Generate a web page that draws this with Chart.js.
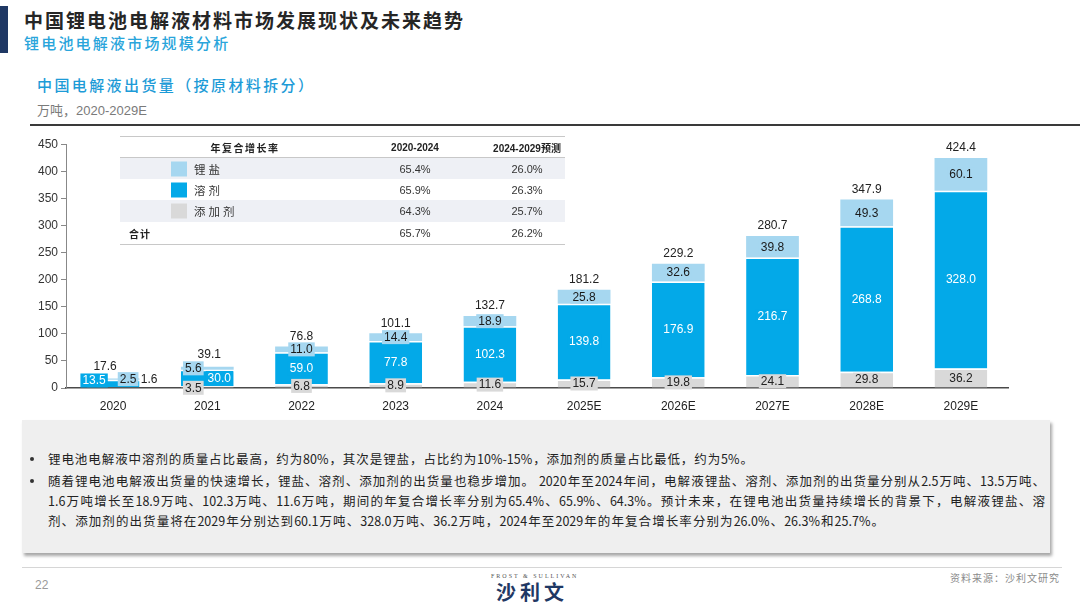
<!DOCTYPE html>
<html>
<head>
<meta charset="utf-8">
<script src="https://cdn.jsdelivr.net/npm/chart.js@4/dist/chart.umd.min.js"></script>
<style>
  html,body{margin:0;padding:0;background:#fff;}
  body{width:1080px;height:608px;position:relative;overflow:hidden;font-family:"Liberation Sans",Arial,"Noto Sans CJK SC",sans-serif;}
  .abs{position:absolute;white-space:nowrap;}
  .cjk{font-family:"Noto Sans CJK SC",sans-serif;}
  #chartBox{position:absolute;left:20px;top:134px;width:990px;height:284px;}
  .tline{position:absolute;height:1px;background:#c8c8c8;}
  .band{position:absolute;background:#eef0f5;}
  .tc{position:absolute;transform:translate(-50%,-50%);white-space:nowrap;font-size:11px;color:#333;}
  .tl{position:absolute;transform:translateY(-50%);white-space:nowrap;font-size:11px;color:#333;}
  .sw{position:absolute;width:16px;height:15px;transform:translateY(-50%);}
  .txtline{position:absolute;left:48px;font-size:12.5px;color:#222;white-space:nowrap;text-align:justify;text-align-last:justify;line-height:16px;}
  .dot{position:absolute;left:30px;width:4px;height:4px;background:#333;border-radius:2px;}
</style>
</head>
<body>
<!-- header -->
<div class="abs" style="left:0;top:6px;width:8px;height:47px;background:#1f3864;"></div>
<div class="abs cjk" style="left:24px;top:7px;font-size:19px;font-weight:700;letter-spacing:2px;color:#262626;line-height:26px;">中国锂电池电解液材料市场发展现状及未来趋势</div>
<div class="abs cjk" style="left:24px;top:33px;font-size:15px;font-weight:500;letter-spacing:2.2px;color:#2aa5db;line-height:20px;">锂电池电解液市场规模分析</div>
<div class="abs cjk" style="left:37px;top:74px;font-size:15px;font-weight:500;letter-spacing:2.4px;color:#1d9bd7;line-height:22px;">中国电解液出货量（按原材料拆分）</div>
<div class="abs" style="left:37px;top:101px;font-size:13px;color:#7a7a7a;line-height:18px;"><span class="cjk">万吨，</span>2020-2029E</div>
<div class="abs" style="left:30px;top:124px;width:1050px;height:2px;background:#3a3a3a;"></div>

<div id="chartBox"><canvas id="c"></canvas></div>
<div id="cagr"></div>

<!-- text box -->
<div class="abs" style="left:22px;top:420px;width:1028px;height:133px;background:#efefef;box-shadow:2px 3px 3px rgba(0,0,0,0.35);"></div>
<div class="dot" style="top:457px;"></div>
<div class="txtline cjk" style="top:451px;width:705px;">锂电池电解液中溶剂的质量占比最高，约为80%，其次是锂盐，占比约为10%-15%，添加剂的质量占比最低，约为5%。</div>
<div class="dot" style="top:479px;"></div>
<div class="txtline cjk" style="top:473px;width:997px;">随着锂电池电解液出货量的快速增长，锂盐、溶剂、添加剂的出货量也稳步增加。 2020年至2024年间，电解液锂盐、溶剂、添加剂的出货量分别从2.5万吨、13.5万吨、</div>
<div class="txtline cjk" style="top:493px;width:997px;">1.6万吨增长至18.9万吨、102.3万吨、11.6万吨，期间的年复合增长率分别为65.4%、65.9%、64.3%。预计未来，在锂电池出货量持续增长的背景下，电解液锂盐、溶</div>
<div class="txtline cjk" style="top:513px;width:836px;">剂、添加剂的出货量将在2029年分别达到60.1万吨、328.0万吨、36.2万吨，2024年至2029年的年复合增长率分别为26.0%、26.3%和25.7%。</div>

<!-- footer -->
<div class="abs" style="left:22px;top:567px;width:1040px;height:1px;background:#d6d6d6;"></div>
<div class="abs" style="left:35px;top:578px;font-size:12px;color:#9a9a9a;">22</div>
<div class="abs" style="left:491px;top:573px;font-size:6px;letter-spacing:2px;color:#555;font-family:'Liberation Serif',serif;">FROST &amp; SULLIVAN</div>
<div class="abs cjk" style="left:496px;top:580px;font-size:20px;font-weight:700;letter-spacing:4px;color:#1f3864;line-height:24px;">沙利文</div>
<div class="abs cjk" style="right:20px;top:570px;font-size:10px;letter-spacing:1px;color:#8a8a8a;">资料来源：沙利文研究</div>

<script>
// ---------- data ----------
const years    = ['2020','2021','2022','2023','2024','2025E','2026E','2027E','2028E','2029E'];
const salt     = [2.5, 5.6, 11.0, 14.4, 18.9, 25.8, 32.6, 39.8, 49.3, 60.1];
const solvent  = [13.5, 30.0, 59.0, 77.8, 102.3, 139.8, 176.9, 216.7, 268.8, 328.0];
const additive = [1.6, 3.5, 6.8, 8.9, 11.6, 15.7, 19.8, 24.1, 29.8, 36.2];
const totals   = [17.6, 39.1, 76.8, 101.1, 132.7, 181.2, 229.2, 280.7, 347.9, 424.4];
const yTicks   = [0, 50, 100, 150, 200, 250, 300, 350, 400, 450];

const seriesNames = ['锂盐', '溶剂', '添加剂'];
const cagrRows    = ['锂盐', '溶剂', '添加剂', '合计'];
const cagrHist    = ['65.4%', '65.9%', '64.3%', '65.7%'];
const cagrFcst    = ['26.0%', '26.3%', '25.7%', '26.2%'];
const cagrHeaders = ['年复合增长率', '2020-2024', '2024-2029预测'];

// ---------- styles ----------
const COLORS = { salt:'#a6d7f0', solvent:'#03a9e8', additive:'#d9d9d9' };
// per-point label nudges (px) for the crowded first two bars
const offsets = {
  additive: {0:[36,-8,false], 1:[-14,1,true]},
  solvent:  {0:[-19,-3,true], 1:[12,0,true]},
  salt:     {0:[15,0,true],   1:[-14,0,true]},
  total:    {0:[-8,-2], 1:[2,-2]}
};

const ds = (key, label, data, color, labelColor, border) => ({
  key, label, data,
  backgroundColor: color,
  borderColor: '#ffffff',
  borderWidth: border ? {top:1.5, bottom:0, left:0, right:0} : 0,
  borderSkipped: 'start',
  labelBg: color, labelColor,
  stack: 's'
});

const segLabels = {
  id: 'segLabels',
  afterDatasetsDraw(chart) {
    const ctx = chart.ctx;
    ctx.save();
    ctx.font = '12px "Liberation Sans", Arial, sans-serif';
    ctx.textAlign = 'center';
    ctx.textBaseline = 'middle';
    chart.data.datasets.forEach((d, di) => {
      const meta = chart.getDatasetMeta(di);
      meta.data.forEach((bar, j) => {
        const off = (offsets[d.key] && offsets[d.key][j]) || [0, 0, true];
        const x = bar.x + off[0];
        const y = (bar.y + bar.base) / 2 + off[1];
        const txt = d.data[j].toFixed(1);
        const w = ctx.measureText(txt).width + 4;
        if (off[2]) {
          ctx.fillStyle = d.labelBg;
          ctx.fillRect(x - w / 2, y - 7, w, 14);
        } else {
          ctx.strokeStyle = '#555'; ctx.lineWidth = 1;
          ctx.beginPath();
          ctx.moveTo(x - w / 2 - 4, y + 4);
          ctx.lineTo(x - w / 2 - 1, y - 1);
          ctx.stroke();
        }
        ctx.fillStyle = d.labelColor;
        ctx.fillText(txt, x, y + 0.5);
      });
    });
    const topMeta = chart.getDatasetMeta(chart.data.datasets.length - 1);
    ctx.fillStyle = '#222';
    topMeta.data.forEach((bar, j) => {
      const off = offsets.total[j] || [0, 0];
      ctx.fillText(totals[j].toFixed(1), bar.x + off[0], bar.y - 10 + off[1]);
    });
    ctx.restore();
  }
};

new Chart(document.getElementById('c'), {
  type: 'bar',
  data: {
    labels: years,
    datasets: [
      ds('additive', seriesNames[2], additive, COLORS.additive, '#222', true),
      ds('solvent',  seriesNames[1], solvent,  COLORS.solvent,  '#ffffff', true),
      ds('salt',     seriesNames[0], salt,     COLORS.salt,     '#1a1a1a', false)
    ]
  },
  options: {
    responsive: true,
    maintainAspectRatio: false,
    animation: false,
    layout: { padding: { top: 9, right: 2, left: 0, bottom: 0 } },
    datasets: { bar: { categoryPercentage: 1, barPercentage: 0.56 } },
    plugins: { legend: { display: false }, tooltip: { enabled: false } },
    scales: {
      x: {
        stacked: true,
        grid: { display: false, drawTicks: false },
        border: { display: true, color: '#4a4a4a', width: 1.5 },
        ticks: { color: '#222', font: { size: 12, family: '"Liberation Sans", Arial, sans-serif' }, padding: 11, maxRotation: 0 },
        afterFit: s => { s.height = 30; }
      },
      y: {
        stacked: true,
        min: yTicks[0], max: yTicks[yTicks.length - 1],
        afterBuildTicks: s => { s.ticks = yTicks.map(v => ({ value: v })); },
        grid: { drawOnChartArea: false, drawTicks: true, tickLength: 5, color: '#888' },
        border: { display: true, color: '#888', width: 1 },
        ticks: { color: '#333', font: { size: 12, family: '"Liberation Sans", Arial, sans-serif' }, padding: 3 },
        afterFit: s => { s.width = 46; }
      }
    }
  },
  plugins: [segLabels]
});

// ---------- CAGR table (overlay) ----------
(function buildTable() {
  const root = document.getElementById('cagr');
  const add = (cls, style, html) => {
    const e = document.createElement('div');
    e.className = cls; e.setAttribute('style', style);
    if (html !== undefined) e.innerHTML = html;
    root.appendChild(e);
    return e;
  };
  const L = 120, R = 565;
  const rowTop = [158, 179, 200, 222];
  const rowH = [21, 21, 22, 22];
  add('band', `left:${L}px;top:${rowTop[0]}px;width:${R - L}px;height:${rowH[0]}px;`);
  add('band', `left:${L}px;top:${rowTop[2]}px;width:${R - L}px;height:${rowH[2]}px;`);
  add('tline', `left:${L}px;top:136px;width:${R - L}px;`);
  add('tline', `left:${L}px;top:157px;width:${R - L}px;`);
  add('tline', `left:${L}px;top:244px;width:${R - L}px;`);
  add('tc cjk', 'left:245px;top:147px;font-size:10px;font-weight:700;letter-spacing:1.5px;color:#222;', cagrHeaders[0]);
  add('tc', 'left:415px;top:147px;font-size:10px;font-weight:700;color:#222;', cagrHeaders[1]);
  add('tc', 'left:527px;top:147px;font-size:10px;font-weight:700;color:#222;', cagrHeaders[2].replace('预测', '<span class="cjk">预测</span>'));
  const swCols = [COLORS.salt, COLORS.solvent, COLORS.additive];
  cagrRows.forEach((name, i) => {
    const cy = rowTop[i] + rowH[i] / 2;
    if (i < 3) {
      add('sw', `left:171px;top:${cy}px;background:${swCols[i]};`);
      add('tl cjk', `left:194px;top:${cy}px;font-size:11.5px;letter-spacing:3px;color:#333;`, name);
    } else {
      add('tl cjk', `left:129px;top:${cy}px;font-size:10px;font-weight:700;letter-spacing:1px;color:#222;`, name);
    }
    add('tc', `left:415px;top:${cy}px;`, cagrHist[i]);
    add('tc', `left:527px;top:${cy}px;`, cagrFcst[i]);
  });
})();
</script>
</body>
</html>
